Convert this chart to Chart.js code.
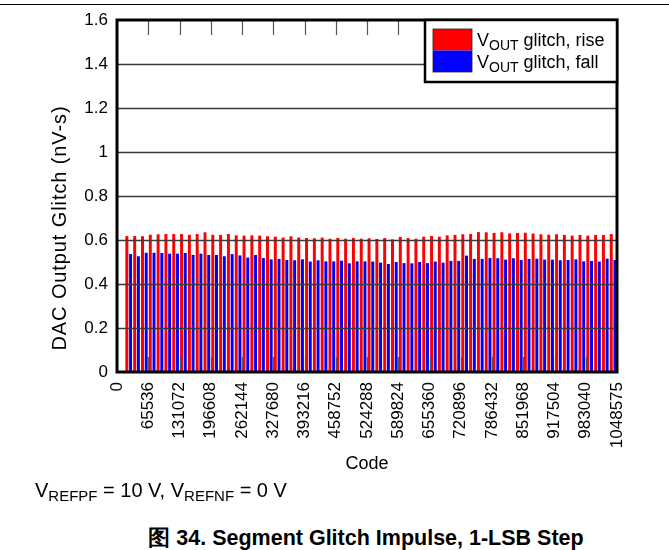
<!DOCTYPE html>
<html>
<head>
<meta charset="utf-8">
<script src="https://cdn.jsdelivr.net/npm/chart.js@4/dist/chart.umd.min.js"></script>
<style>
  body { margin: 0; background: #fff; width: 669px; height: 550px; position: relative; overflow: hidden;
         font-family: "Liberation Sans", Arial, sans-serif; }
  #topRule { position: absolute; left: 0; top: 4px; width: 669px; height: 0; border-top: 1.5px solid #000; }
  #chartBox { position: absolute; left: 0; top: 0; }
  #conditions { position: absolute; left: 35px; top: 479px; font-size: 20px; color: #000; white-space: nowrap; }
  #conditions sub { font-size: 15px; vertical-align: -4px; line-height: 0; }
  #caption { position: absolute; left: 0; width: 732px; top: 523px; text-align: center; font-size: 21.5px;
             font-weight: bold; color: #000; white-space: nowrap; }
</style>
</head>
<body>
<div id="topRule"></div>
<canvas id="chartBox" width="669" height="480"></canvas>
<div id="conditions">V<sub>REFPF</sub> = 10 V, V<sub>REFNF</sub> = 0 V</div>
<div id="caption">图 34. Segment Glitch Impulse, 1-LSB Step</div>
<script>
const CODE_MAX = 1048575;
const SEGMENT_SIZE = 16384;

// segment steps 1..63 of the 6-bit MSB segmentation
const SEGMENTS = Array.from({ length: 63 }, (_, i) => i + 1);

const RISE_GLITCH = [
    0.618, 0.618, 0.617, 0.624, 0.626, 0.627, 0.627, 0.627, 0.624, 0.627,
    0.635, 0.624, 0.623, 0.627, 0.621, 0.620, 0.621, 0.620, 0.617, 0.615,
    0.611, 0.617, 0.611, 0.609, 0.608, 0.611, 0.606, 0.609, 0.606, 0.609,
    0.606, 0.608, 0.605, 0.609, 0.603, 0.614, 0.609, 0.606, 0.615, 0.618,
    0.615, 0.621, 0.623, 0.626, 0.627, 0.636, 0.635, 0.632, 0.635, 0.630,
    0.632, 0.633, 0.629, 0.626, 0.624, 0.626, 0.623, 0.620, 0.623, 0.620,
    0.623, 0.623, 0.627
];

const FALL_GLITCH = [
    0.536, 0.526, 0.542, 0.542, 0.541, 0.538, 0.538, 0.541, 0.532, 0.538,
    0.532, 0.532, 0.526, 0.536, 0.530, 0.520, 0.532, 0.518, 0.512, 0.514,
    0.509, 0.508, 0.512, 0.502, 0.508, 0.503, 0.503, 0.506, 0.494, 0.503,
    0.503, 0.502, 0.497, 0.491, 0.500, 0.495, 0.494, 0.500, 0.495, 0.502,
    0.497, 0.505, 0.505, 0.529, 0.514, 0.514, 0.518, 0.517, 0.511, 0.517,
    0.509, 0.514, 0.515, 0.511, 0.511, 0.508, 0.509, 0.512, 0.503, 0.505,
    0.502, 0.515, 0.509
];

const X_TICKS = [0, 65536, 131072, 196608, 262144, 327680, 393216, 458752, 524288,
                 589824, 655360, 720896, 786432, 851968, 917504, 983040, 1048575];
const Y_TICKS = [0, 0.2, 0.4, 0.6, 0.8, 1, 1.2, 1.4, 1.6];

const Y_TITLE = "DAC Output Glitch (nV-s)";
const SERIES_TEXT = [
    [["V", false], ["OUT", true], [" glitch, rise", false]],
    [["V", false], ["OUT", true], [" glitch, fall", false]]
];

const FONT = '"Liberation Sans", Arial, sans-serif';

function toPoints(values) {
    // bars sit in the middle of each segment
    return SEGMENTS.map((s, i) => ({ x: (s + 0.5) * SEGMENT_SIZE, y: values[i] }));
}

function drawRichText(ctx, parts, x, y, size) {
    let cx = x;
    parts.forEach(([txt, isSub]) => {
        ctx.font = (isSub ? Math.round(size * 0.75) : size) + "px " + FONT;
        ctx.fillText(txt, cx, isSub ? y + 4 : y);
        cx += ctx.measureText(txt).width;
    });
}

// gridlines, inner tick marks and the heavy frame go over the bars
const framePlugin = {
    id: "frame",
    afterDatasetsDraw(chart) {
        const { ctx, chartArea: a, scales } = chart;
        ctx.save();
        ctx.strokeStyle = "#3a3a3a";
        ctx.lineWidth = 1.5;
        Y_TICKS.slice(1, -1).forEach(v => {
            const y = Math.round(scales.y.getPixelForValue(v)) + 0.5;
            ctx.beginPath();
            ctx.moveTo(a.left, y);
            ctx.lineTo(a.right, y);
            ctx.stroke();
        });
        ctx.lineWidth = 1.2;
        ctx.strokeStyle = "#555";
        X_TICKS.slice(1, -1).forEach(v => {
            const x = Math.round(scales.x.getPixelForValue(v)) + 0.5;
            ctx.beginPath();
            ctx.moveTo(x, a.top);
            ctx.lineTo(x, a.top + 15);
            ctx.moveTo(x, a.bottom);
            ctx.lineTo(x, a.bottom - 15);
            ctx.stroke();
        });
        ctx.strokeStyle = "#000";
        ctx.lineWidth = 3;
        ctx.strokeRect(a.left, a.top, a.right - a.left, a.bottom - a.top);
        ctx.restore();
    },
    afterDraw(chart) {
        const { ctx, chartArea: a } = chart;

        // y axis title
        ctx.save();
        ctx.translate(60, 228);
        ctx.rotate(-Math.PI / 2);
        ctx.font = "20px " + FONT;
        ctx.letterSpacing = "0.9px";
        ctx.fillStyle = "#000";
        ctx.textAlign = "center";
        ctx.textBaseline = "middle";
        ctx.fillText(Y_TITLE, 0, 0);
        ctx.restore();

        // legend
        const box = { left: 425, top: a.top, right: a.right, bottom: 82 };
        ctx.save();
        ctx.fillStyle = "#fff";
        ctx.fillRect(box.left, box.top, box.right - box.left, box.bottom - box.top);
        ctx.strokeStyle = "#000";
        ctx.lineWidth = 2.5;
        ctx.strokeRect(box.left, box.top, box.right - box.left, box.bottom - box.top);
        chart.data.datasets.forEach((ds, i) => {
            const top = 29 + i * 21.5;
            ctx.fillStyle = ds.backgroundColor;
            ctx.fillRect(433, top, 39, 21.5);
            ctx.fillStyle = "#000";
            ctx.textBaseline = "alphabetic";
            drawRichText(ctx, SERIES_TEXT[i], 477, top + 17, 18);
        });
        ctx.strokeStyle = "#222";
        ctx.lineWidth = 0.8;
        ctx.strokeRect(433, 29, 39, 43);
        ctx.restore();
    }
};

const ctx = document.getElementById("chartBox").getContext("2d");
const glitchChart = new Chart(ctx, {
    type: "bar",
    data: {
        datasets: [
            {
                label: "VOUT glitch, rise",
                data: toPoints(RISE_GLITCH),
                backgroundColor: "#ff0000",
                categoryPercentage: 0.95,
                barPercentage: 0.8
            },
            {
                label: "VOUT glitch, fall",
                data: toPoints(FALL_GLITCH),
                backgroundColor: "#0000ff",
                categoryPercentage: 0.95,
                barPercentage: 0.8
            }
        ]
    },
    options: {
        responsive: false,
        animation: false,
        layout: { padding: { top: 20, right: 52, left: 0, bottom: 0 } },
        plugins: {
            legend: { display: false },
            tooltip: { enabled: false }
        },
        scales: {
            x: {
                type: "linear",
                min: 0,
                max: CODE_MAX,
                offset: false,
                grid: { display: false, drawTicks: false },
                border: { display: false },
                afterBuildTicks: scale => { scale.ticks = X_TICKS.map(v => ({ value: v })); },
                afterFit: scale => { scale.height = 108; },
                ticks: {
                    autoSkip: false,
                    minRotation: 90,
                    maxRotation: 90,
                    padding: 10,
                    color: "#000",
                    font: { family: FONT, size: 17 },
                    callback: v => String(v)
                },
                title: {
                    display: true,
                    text: "Code",
                    color: "#000",
                    font: { family: FONT, size: 18 },
                    padding: { top: 0, bottom: 5 }
                }
            },
            y: {
                min: 0,
                max: 1.6,
                grid: { display: false, drawTicks: false },
                border: { display: false },
                afterBuildTicks: scale => { scale.ticks = Y_TICKS.map(v => ({ value: v })); },
                afterFit: scale => { scale.width = 117; },
                ticks: {
                    padding: 9,
                    color: "#000",
                    font: { family: FONT, size: 17 },
                    callback: v => String(parseFloat(v.toFixed(1)))
                }
            }
        }
    },
    plugins: [framePlugin]
});
</script>
</body>
</html>
